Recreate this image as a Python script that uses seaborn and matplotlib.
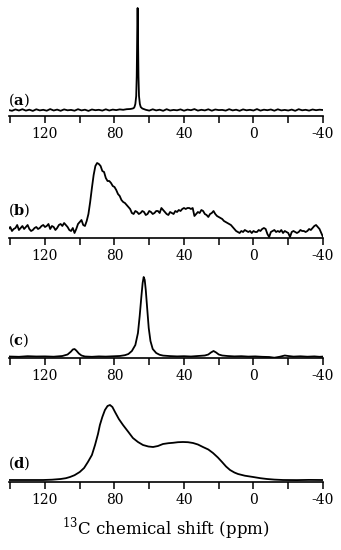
"""Stacked 13C NMR spectra, panels (a)-(d)."""
import matplotlib
matplotlib.use("Agg")
import matplotlib.pyplot as plt
from matplotlib.ticker import MultipleLocator
import numpy as np
import seaborn as sns

# ---- data (intensity in arbitrary units) ----
shift_a = [141, 139, 137, 135, 133, 131, 129, 127, 125, 123,
           121, 119, 117, 115, 113, 111, 109, 107, 105, 103,
           101, 99, 97, 95, 93, 91, 89, 87, 85, 83,
           81, 79, 77, 75, 73,
           71, 70, 69, 68.5, 68, 67.5, 67.2, 67.0, 66.85, 66.7, 66.55, 66.4,
           66.2, 65.9, 65.4, 64.9, 64,
           62, 60, 58, 56, 54, 52, 50, 48, 46, 44,
           42, 40, 38, 36, 34, 32, 30, 28, 26, 24,
           22, 20, 18, 16, 14, 12, 10, 8, 6, 4,
           2, 0, -2, -4, -6, -8, -10, -12, -14, -16,
           -18, -20, -22, -24, -26, -28, -30, -32, -34, -36,
           -38, -40]
int_a = [6.0, 5.2, 6.6, 5.5, 6.8, 5.4, 6.3, 5.1, 6.7, 5.6,
         6.2, 5.3, 6.9, 5.5, 6.4, 5.2, 6.6, 5.7, 6.1, 5.3,
         6.8, 5.6, 6.3, 5.1, 6.5, 5.8, 6.2, 5.4, 6.7, 5.5,
         6.4, 5.9, 6.6, 6.2, 6.8,
         7.0, 7.3, 7.8, 9, 12, 20, 40, 70, 95, 108, 95, 70,
         40, 20, 12, 9, 7.5,
         6.2, 5.4, 6.7, 5.6, 6.3, 5.2, 6.8, 5.5, 6.1, 5.7,
         6.6, 5.3, 6.4, 5.8, 6.9, 5.4, 6.2, 5.6, 6.7, 5.3,
         6.5, 5.9, 6.1, 5.4, 6.8, 5.6, 6.3, 5.2, 6.6, 5.7,
         6.2, 5.5, 6.9, 5.4, 6.3, 5.8, 6.5, 5.3, 6.7, 5.6,
         6.1, 5.5, 6.4, 5.2, 6.8, 5.7, 6.2, 5.4, 6.5, 5.8,
         6.3, 6.0]

# panel (b) sampled every 1 ppm from 141 down to -40
shift_b = [141, 140, 139, 138, 137, 136, 135, 134, 133, 132,
           131, 130, 129, 128, 127, 126, 125, 124, 123, 122,
           121, 120, 119, 118, 117, 116, 115, 114, 113, 112,
           111, 110, 109, 108, 107, 106, 105, 104, 103, 102,
           101, 100, 99, 98, 97, 96, 95, 94, 93, 92,
           91, 90, 89, 88, 87, 86, 85, 84, 83, 82,
           81, 80, 79, 78, 77, 76, 75, 74, 73, 72,
           71, 70, 69, 68, 67, 66, 65, 64, 63, 62,
           61, 60, 59, 58, 57, 56, 55, 54, 53, 52,
           51, 50, 49, 48, 47, 46, 45, 44, 43, 42,
           41, 40, 39, 38, 37, 36, 35, 34, 33, 32,
           31, 30, 29, 28, 27, 26, 25, 24, 23, 22,
           21, 20, 19, 18, 17, 16, 15, 14, 13, 12,
           11, 10, 9, 8, 7, 6, 5, 4, 3, 2,
           1, 0, -1, -2, -3, -4, -5, -6, -7, -8,
           -9, -10, -11, -12, -13, -14, -15, -16, -17, -18,
           -19, -20, -21, -22, -23, -24, -25, -26, -27, -28,
           -29, -30, -31, -32, -33, -34, -35, -36, -37, -38,
           -39, -40]
int_b = [9, 11, 7, 9, 10, 13, 8, 10, 12, 9,
         11, 13, 9, 7, 8, 10, 11, 9, 10, 12,
         13, 11, 12, 14, 9, 12, 11, 8, 10, 13,
         14, 12, 15, 13, 11, 8, 7, 10, 5, 9,
         14, 16, 18, 13, 12, 17, 24, 36, 50, 63,
         72, 75, 74, 72, 67, 66, 60, 57, 57, 55,
         52, 51, 48, 44, 42, 38, 36, 35, 33, 31,
         29, 25, 24, 27, 26, 24, 25, 27, 26, 23,
         24, 27, 26, 24, 25, 27, 27, 25, 30, 28,
         26, 24, 23, 26, 25, 24, 27, 26, 28, 27,
         29, 30, 29, 30, 30, 29, 30, 22, 24, 26,
         25, 28, 27, 24, 23, 21, 24, 25, 27, 24,
         22, 21, 20, 19, 17, 16, 15, 14, 13, 11,
         9, 7, 6, 5, 7, 6, 8, 7, 6, 7,
         5, 7, 6, 6, 8, 7, 9, 10, 9, 4,
         1, 6, 7, 8, 6, 7, 6, 8, 5, 7,
         6, 5, 1, 6, 7, 6, 5, 6, 8, 7,
         7, 6, 7, 9, 8, 10, 12, 13, 11, 9,
         5, 1]

shift_c = [141, 135, 130, 125, 120, 115, 110, 107, 105, 104, 103, 102, 100.5, 99,
           97, 93, 89, 85, 81, 77, 74, 72, 70, 68, 66.5, 65.5, 64.5, 63.8, 63.2,
           62.6, 62, 61.2, 60.3, 59.3, 58, 56, 54, 52, 48, 44, 40, 36, 32, 28, 26,
           24.5, 23, 21.5, 20, 18, 15, 11, 7, 3, -1, -5, -9, -12, -15, -18, -20,
           -23, -27, -31, -35, -38, -40]
int_c = [1.5, 1.2, 1.8, 1.5, 1.6, 1.3, 2.0, 3.5, 6.5, 8.5, 9.0, 7.5, 4.5, 2.5,
         1.5, 1.2, 1.6, 1.4, 1.7, 2.0, 2.8, 4.0, 7.0, 13, 25, 42, 62, 75, 81,
         78, 68, 50, 30, 17, 9, 5, 3.2, 2.4, 1.9, 1.6, 1.8, 1.5, 2.0, 2.5, 3.5,
         5.5, 7.0, 5.5, 3.5, 2.5, 2.0, 1.6, 1.8, 1.4, 1.6, 1.2, 1.0, 0.3, 1.2,
         2.5, 2.0, 1.4, 1.7, 1.3, 1.6, 1.2, 1.4]

shift_d = [141, 130, 121, 116, 111, 108, 105.6, 103, 100, 97.5, 95.3, 93, 91.2,
           89.5, 88.4, 87, 85.5, 84, 82.6, 81.2, 79.7, 77.5, 75.1, 72, 69.4, 66.5,
           63.6, 60.5, 57.8, 55, 52.1, 49, 46.3, 43.5, 40.6, 37.7, 34.8, 32, 29.1,
           26, 23.3, 20.5, 18.1, 15.8, 13.5, 11, 8.9, 5, 0.2, -4, -7.8, -12, -17,
           -25, -32, -40]
int_d = [2.0, 2.0, 2.0, 2.3, 3.0, 3.8, 5.0, 6.8, 10, 14, 20, 27, 37, 48, 57, 65,
         72, 76, 77, 75, 70, 63, 57, 50, 44, 40, 37, 35.5, 35, 36, 38, 38.8, 39.2,
         39.8, 40, 39.8, 39, 37.5, 35, 32.5, 29, 24.5, 20, 15.5, 12, 9.5, 8, 6.3,
         5, 3.8, 3, 2.4, 2.0, 1.9, 2.1, 2.0]

panel_labels = ["a", "b", "c", "d"]
major_ticks = [120, 80, 40, 0, -40]
tick_labels = ["120", "80", "40", "0", "-40"]

sns.set_style("ticks")
plt.rcParams["font.family"] = ["DejaVu Serif"]
plt.rcParams["mathtext.fontset"] = "custom"
plt.rcParams["mathtext.rm"] = "DejaVu Serif"
plt.rcParams["mathtext.bf"] = "DejaVu Serif:bold"
plt.rcParams["text.color"] = "black"
plt.rcParams["axes.labelcolor"] = "black"

fig = plt.figure(figsize=(3.41, 5.5), dpi=100)
W, H = 341, 550
axis_rows = [116, 238, 358, 482]   # pixel row of each baseline axis
label_rows = [100, 210, 340, 463]
spectra = [(shift_a, int_a), (shift_b, int_b), (shift_c, int_c), (shift_d, int_d)]

for (x, y), row, lab, lrow in zip(spectra, axis_rows, panel_labels, label_rows):
    ax = fig.add_axes([8.5 / W, 1 - row / H, 314.5 / W, 110 / H])
    ax.patch.set_alpha(0)
    sns.lineplot(x=np.asarray(x), y=np.asarray(y), ax=ax, color="black", lw=1.3,
                 estimator=None)
    ax.set_xlim(141, -40)
    ax.set_ylim(0, 110)
    sns.despine(ax=ax, left=True)
    ax.spines["bottom"].set_linewidth(1.2)
    ax.spines["bottom"].set_color("black")
    ax.set_yticks([])
    ax.set_ylabel("")
    ax.set_xlabel("")
    ax.set_xticks(major_ticks)
    ax.set_xticklabels(tick_labels)
    ax.xaxis.set_minor_locator(MultipleLocator(20))
    ax.tick_params(axis="x", which="both", direction="out", length=5, width=1.1,
                   labelsize=10, pad=3, colors="black")
    fig.text(8 / W, 1 - lrow / H, "(" + r"$\mathbf{" + lab + "}$" + ")",
             fontsize=10.5, va="center", ha="left", color="black")

ax.set_xlabel(r"$^{13}$C chemical shift (ppm)", fontsize=12, labelpad=6,
              color="black")

fig.savefig("out.png", dpi=100)
